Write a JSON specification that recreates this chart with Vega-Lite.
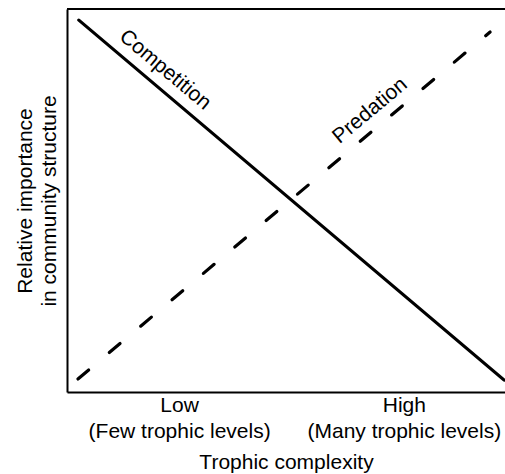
{
  "$schema": "https://vega.github.io/schema/vega-lite/v6.json",
  "width": 438,
  "height": 383,
  "autosize": "none",
  "padding": {"left": 67, "top": 9, "right": 0, "bottom": 82},
  "config": {
    "view": {"stroke": null},
    "font": "Liberation Sans",
    "axis": {"grid": false, "domainColor": "black", "domainWidth": 2, "ticks": false, "titleFontWeight": "normal", "titleColor": "black", "labelColor": "black"}
  },
  "datasets": {
    "lines": [
      {"series": "Competition", "x": 2.7, "y": 97.1},
      {"series": "Competition", "x": 99.8, "y": 3.1},
      {"series": "Predation", "x": 2.5, "y": 3.4},
      {"series": "Predation", "x": 96.6, "y": 94.0}
    ],
    "labels": [
      {"label": "Competition", "x": 22.4, "y": 84.1},
      {"label": "Predation", "x": 69.2, "y": 73.4}
    ],
    "frame": [{"y": 100}]
  },
  "layer": [
    {
      "data": {"name": "lines"},
      "transform": [{"filter": "datum.series === 'Competition'"}],
      "mark": {"type": "line", "color": "black", "strokeWidth": 3.2, "strokeCap": "round"},
      "encoding": {
        "x": {"field": "x", "type": "quantitative", "scale": {"domain": [0, 100], "nice": false},
          "axis": {"values": [25.6, 76.9], "labelExpr": "datum.value < 50 ? ['Low', '(Few trophic levels)'] : ['High', '(Many trophic levels)']", "labelFontSize": 21, "labelLineHeight": 26, "labelPadding": 2, "labelLimit": 0, "labelFlush": false, "labelOverlap": false, "title": "Trophic complexity", "titleFontSize": 21, "titlePadding": 10}},
        "y": {"field": "y", "type": "quantitative", "scale": {"domain": [0, 100], "nice": false},
          "axis": {"labels": false, "title": ["Relative importance", "in community structure"], "titleFontSize": 21, "titleLineHeight": 24, "titlePadding": 8}}
      }
    },
    {
      "data": {"name": "lines"},
      "transform": [{"filter": "datum.series === 'Predation'"}],
      "mark": {"type": "line", "color": "black", "strokeWidth": 3.2, "strokeCap": "round", "strokeDash": [14, 27]},
      "encoding": {
        "x": {"field": "x", "type": "quantitative"},
        "y": {"field": "y", "type": "quantitative"}
      }
    },
    {
      "data": {"name": "labels"},
      "transform": [{"filter": "datum.label === 'Competition'"}],
      "mark": {"type": "text", "angle": 40, "fontSize": 21, "align": "center", "baseline": "middle", "color": "black"},
      "encoding": {
        "x": {"field": "x", "type": "quantitative"},
        "y": {"field": "y", "type": "quantitative"},
        "text": {"field": "label"}
      }
    },
    {
      "data": {"name": "labels"},
      "transform": [{"filter": "datum.label === 'Predation'"}],
      "mark": {"type": "text", "angle": -40, "fontSize": 21, "align": "center", "baseline": "middle", "color": "black"},
      "encoding": {
        "x": {"field": "x", "type": "quantitative"},
        "y": {"field": "y", "type": "quantitative"},
        "text": {"field": "label"}
      }
    },
    {
      "data": {"name": "frame"},
      "mark": {"type": "rule", "color": "black", "strokeWidth": 2},
      "encoding": {"y": {"field": "y", "type": "quantitative"}}
    }
  ]
}
